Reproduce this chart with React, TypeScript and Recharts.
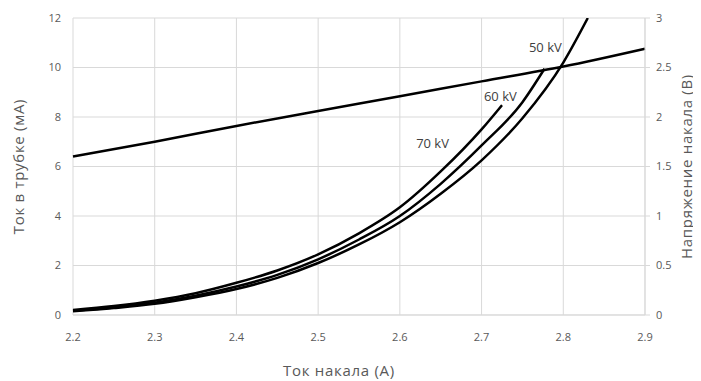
import {
  LineChart,
  Line,
  XAxis,
  YAxis,
  CartesianGrid,
  ReferenceDot,
} from "recharts"

// heating current, A
const xTicks = [2.2, 2.3, 2.4, 2.5, 2.6, 2.7, 2.8, 2.9]
const leftTicks = [0, 2, 4, 6, 8, 10, 12]
const rightTicks = [0, 0.5, 1, 1.5, 2, 2.5, 3]

// tube current (mA) for each anode voltage
const kv70X = [2.2, 2.25, 2.3, 2.35, 2.4, 2.45, 2.5, 2.55, 2.6, 2.65, 2.7, 2.725]
const kv70Y = [0.2, 0.36, 0.58, 0.88, 1.3, 1.8, 2.45, 3.3, 4.35, 5.8, 7.5, 8.48]

const kv60X = [2.2, 2.25, 2.3, 2.35, 2.4, 2.45, 2.5, 2.55, 2.6, 2.65, 2.7, 2.75, 2.777]
const kv60Y = [0.17, 0.3, 0.5, 0.78, 1.15, 1.62, 2.25, 3.05, 4.0, 5.3, 6.85, 8.6, 9.95]

const kv50X = [2.2, 2.25, 2.3, 2.35, 2.4, 2.45, 2.5, 2.55, 2.6, 2.65, 2.7, 2.75, 2.8, 2.83]
const kv50Y = [0.15, 0.28, 0.45, 0.72, 1.05, 1.5, 2.1, 2.85, 3.75, 4.9, 6.25, 7.95, 10.2, 12]

// heating voltage, V
const voltX = [2.2, 2.3, 2.4, 2.5, 2.6, 2.7, 2.8, 2.9]
const voltY = [1.6, 1.75, 1.91, 2.06, 2.21, 2.36, 2.51, 2.69]

const toPoints = (xs: number[], ys: number[]) => xs.map((x, i) => ({ x, y: ys[i] }))

const curves = [
  { name: "70 kV", data: toPoints(kv70X, kv70Y), labelAt: { x: 2.64, y: 6.95 } },
  { name: "60 kV", data: toPoints(kv60X, kv60Y), labelAt: { x: 2.723, y: 8.85 } },
  { name: "50 kV", data: toPoints(kv50X, kv50Y), labelAt: { x: 2.778, y: 10.83 } },
]
const voltData = toPoints(voltX, voltY)

const FONT = "'Open Sans', 'Noto Sans', sans-serif"
const tickStyle = { fill: "#595959", fontSize: 11, fontFamily: FONT }
const titleStyle = { fill: "#595959", fontSize: 15, fontFamily: FONT, letterSpacing: 0.7 }

export default function App() {
  return (
    <div style={{ margin: "-8px 0 0 -8px", width: 701, height: 381, background: "#fff" }}>
      <LineChart width={701} height={381} margin={{ top: 18, right: 0, bottom: 0, left: 0 }}>
        <CartesianGrid yAxisId="left" stroke="#d9d9d9" strokeWidth={1} />
        <XAxis
          dataKey="x"
          type="number"
          domain={[2.2, 2.9]}
          ticks={xTicks}
          tickFormatter={(v: number) => v.toFixed(1)}
          tick={tickStyle}
          stroke="#d9d9d9"
          tickLine={false}
          tickMargin={12}
          height={66}
          allowDuplicatedCategory={false}
          label={{ value: "Ток накала (А)", position: "insideBottom", offset: 5, dx: -20, style: titleStyle }}
        />
        <YAxis
          yAxisId="left"
          domain={[0, 12]}
          ticks={leftTicks}
          allowDataOverflow
          tick={tickStyle}
          axisLine={false}
          tickLine={false}
          tickSize={0}
          tickMargin={12}
          width={73}
          label={{ value: "Ток в трубке (мА)", angle: -90, position: "center", dx: -18, style: titleStyle }}
        />
        <YAxis
          yAxisId="right"
          orientation="right"
          domain={[0, 3]}
          ticks={rightTicks}
          tick={tickStyle}
          stroke="#d9d9d9"
          tickSize={5}
          tickMargin={6}
          width={56}
          label={{ value: "Напряжение накала (В)", angle: -90, position: "center", dx: 14, style: titleStyle }}
        />
        {curves.map((c) => (
          <Line
            key={c.name}
            yAxisId="left"
            data={c.data}
            dataKey="y"
            type="monotone"
            stroke="#000"
            strokeWidth={2.5}
            dot={false}
            isAnimationActive={false}
          />
        ))}
        <Line
          yAxisId="right"
          data={voltData}
          dataKey="y"
          type="monotone"
          stroke="#000"
          strokeWidth={2.5}
          dot={false}
          isAnimationActive={false}
        />
        {curves.map((c) => (
          <ReferenceDot
            key={c.name + "-label"}
            yAxisId="left"
            x={c.labelAt.x}
            y={c.labelAt.y}
            r={0}
            stroke="none"
            label={{ value: c.name, position: "center", fill: "#404040", fontSize: 13, fontFamily: FONT }}
          />
        ))}
      </LineChart>
    </div>
  )
}
